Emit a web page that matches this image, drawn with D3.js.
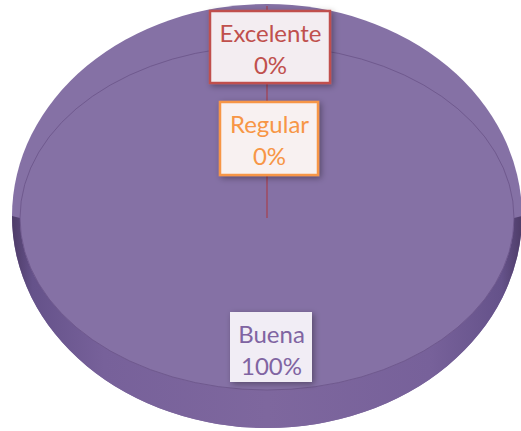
<!DOCTYPE html>
<html><head><meta charset="utf-8">
<script src="https://cdn.jsdelivr.net/npm/d3@7/dist/d3.min.js"></script>
<style>html,body{margin:0;padding:0;background:#fff}svg{display:block}</style>
</head><body>
<svg id="c" width="521" height="431"></svg>
<script>
const categories = ["Excelente", "Regular", "Buena"];
const values = [0, 0, 100];
const percentLabels = ["0%", "0%", "100%"];
const sliceColors = ["#C0504D", "#F79646", "#8571A5"];
const labelText = ["#C0504D", "#F79646", "#8064A2"];
const labelFill = ["#F3EDF1", "#F8F1F1", "#F1EDF5"];
const labelBorder = ["#C0504D", "#F79646", "none"];

(function(){
const svg = d3.select("#c");
const cx = 267, cy = 218;
const rx = 247, ry = 172;          // top face (inner edge)
const ocx = 267, ocy = 216, orx = 255, ory = 212; // outer silhouette

const defs = svg.append("defs");
const g1 = defs.append("linearGradient").attr("id","side").attr("x1","0").attr("x2","1").attr("y1","0").attr("y2","0");
[[0,"#4E3C68"],[0.04,"#65528A"],[0.18,"#77619A"],[0.5,"#7E679E"],[0.82,"#77619A"],[0.96,"#65528A"],[1,"#4E3C68"]]
  .forEach(([o,c])=>g1.append("stop").attr("offset",o).attr("stop-color",c));
const f = defs.append("filter").attr("id","sh").attr("x","-30%").attr("y","-30%").attr("width","160%").attr("height","160%");
f.append("feDropShadow").attr("dx",2).attr("dy",2).attr("stdDeviation",3).attr("flood-color","#000").attr("flood-opacity",0.35);

svg.append("ellipse").attr("cx",ocx).attr("cy",ocy).attr("rx",orx).attr("ry",ory).attr("fill","#8571A5");

svg.append("path")
  .attr("d", `M ${ocx-orx},${ocy} A ${orx} ${ory} 0 0 0 ${ocx+orx} ${ocy} L ${cx+rx},${cy} A ${rx} ${ry} 0 0 1 ${cx-rx},${cy} Z`)
  .attr("fill","url(#side)");

const pie = d3.pie().sort(null).value(d=>d)(values);
const arc = d3.arc().innerRadius(0).outerRadius(rx);
const topFace = svg.append("g").attr("transform",`translate(${cx},${cy}) scale(1,${ry/rx})`);
topFace.selectAll("path").data(pie).join("path")
  .attr("d", arc)
  .attr("fill",(d,i)=>sliceColors[i])
  .attr("stroke","none");
svg.append("ellipse").attr("cx",cx).attr("cy",cy).attr("rx",rx).attr("ry",ry)
  .attr("fill","none").attr("stroke","#6A5488").attr("stroke-width",1).attr("opacity",0.8);

pie.forEach((d,i)=>{
  if (d.endAngle - d.startAngle < 1e-6) {
    const a = d.startAngle;
    const x2 = ocx + orx*Math.sin(a), y2 = ocy - ory*Math.cos(a);
    svg.append("line").attr("x1",cx).attr("y1",cy).attr("x2",x2).attr("y2",y2+2)
      .attr("stroke","#9E4A60").attr("stroke-width",1.2).attr("opacity",0.85);
  }
});

const labelBoxes = [
  {x:210, y:11, w:120, h:72},
  {x:220, y:102, w:98, h:73},
  {x:230, y:312, w:82, h:70}
];
const font = "Lato, 'Open Sans', sans-serif";
categories.forEach((c,i)=>{
  const b = labelBoxes[i];
  const g = svg.append("g");
  g.append("rect").attr("x",b.x).attr("y",b.y).attr("width",b.w).attr("height",b.h)
    .attr("fill",labelFill[i]).attr("filter","url(#sh)")
    .attr("stroke",labelBorder[i]).attr("stroke-width",labelBorder[i]==="none"?0:2.5);
  const mx = b.x + b.w/2 + 0.5;
  g.append("text").attr("x",mx).attr("y",b.y+31).attr("text-anchor","middle")
    .attr("font-family",font).attr("font-size",24).attr("fill",labelText[i]).text(c);
  g.append("text").attr("x",mx).attr("y",b.y+63).attr("text-anchor","middle")
    .attr("font-family",font).attr("font-size",24).attr("fill",labelText[i]).text(percentLabels[i]);
});
})();
</script>
</body></html>
